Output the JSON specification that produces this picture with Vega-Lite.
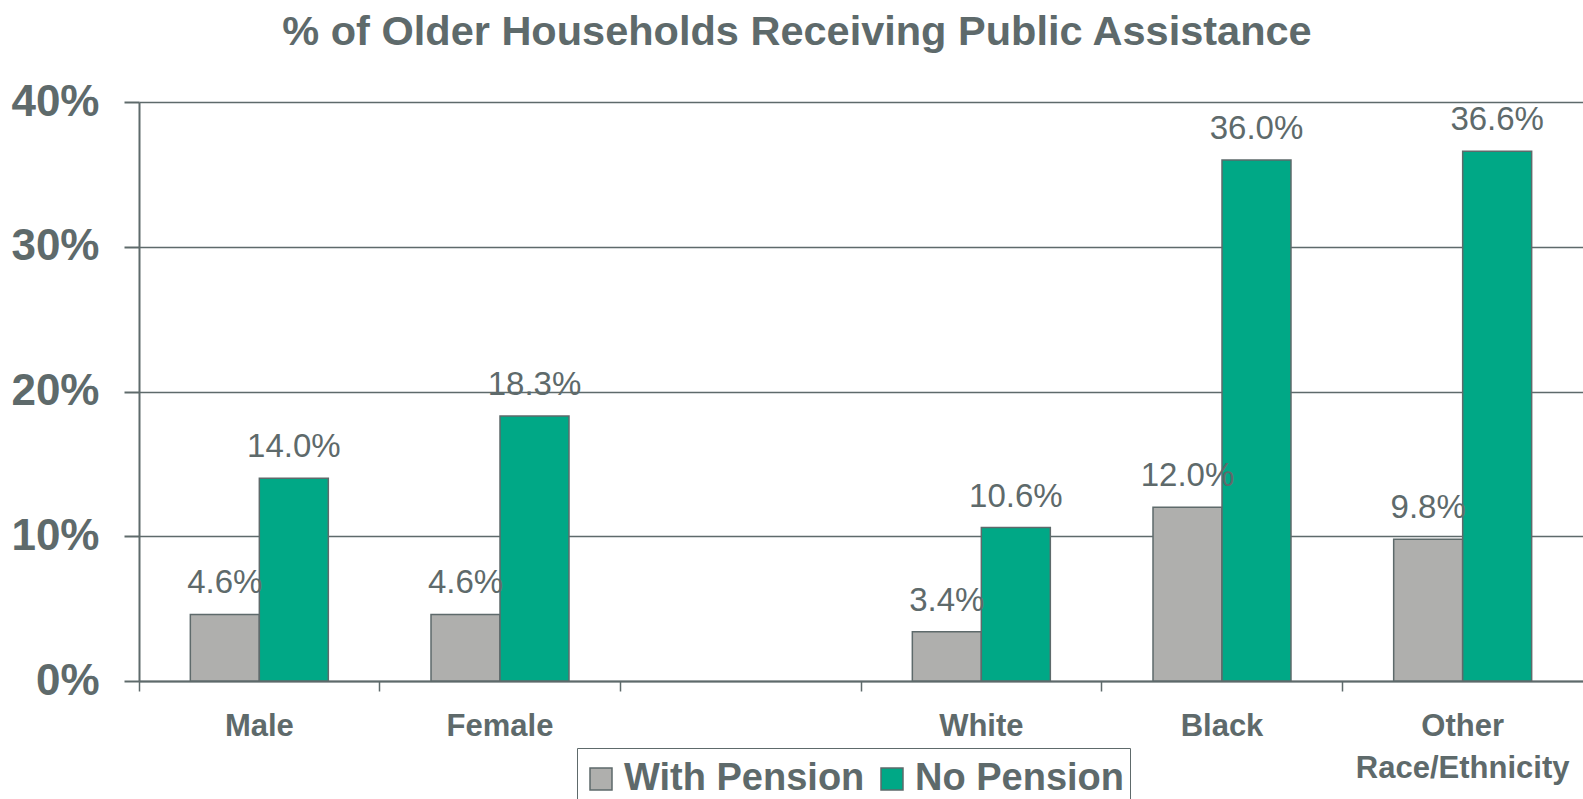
{
  "$schema": "https://vega.github.io/schema/vega-lite/v6.json",
  "width": 1444,
  "height": 579,
  "autosize": {"type": "none"},
  "padding": {"left": 139, "top": 102, "right": 0, "bottom": 118},
  "background": "white",
  "config": {
    "view": {"stroke": null},
    "font": "Liberation Sans"
  },
  "title": {
    "text": "% of Older Households Receiving Public Assistance",
    "fontSize": 41.5,
    "fontWeight": "bold",
    "font": "Liberation Sans",
    "color": "#5E6A6B",
    "anchor": "middle",
    "dx": -64,
    "baseline": "alphabetic",
    "offset": -6
  },
  "data": {
    "values": [
      {"group": "Male", "pension": "With Pension", "value": 0.046},
      {"group": "Male", "pension": "No Pension", "value": 0.140},
      {"group": "Female", "pension": "With Pension", "value": 0.046},
      {"group": "Female", "pension": "No Pension", "value": 0.183},
      {"group": "White", "pension": "With Pension", "value": 0.034},
      {"group": "White", "pension": "No Pension", "value": 0.106},
      {"group": "Black", "pension": "With Pension", "value": 0.120},
      {"group": "Black", "pension": "No Pension", "value": 0.360},
      {"group": "Other Race/Ethnicity", "pension": "With Pension", "value": 0.098},
      {"group": "Other Race/Ethnicity", "pension": "No Pension", "value": 0.366}
    ]
  },
  "encoding": {
    "x": {
      "field": "group",
      "type": "nominal",
      "scale": {
        "domain": ["Male", "Female", " ", "White", "Black", "Other Race/Ethnicity"],
        "paddingInner": 0,
        "paddingOuter": 0
      },
      "axis": {
        "title": null,
        "labelAngle": 0,
        "bandPosition": 0,
        "labelExpr": "datum.value == 'Other Race/Ethnicity' ? ['Other', 'Race/Ethnicity'] : datum.value",
        "labelFont": "Liberation Sans",
        "labelFontSize": 31,
        "labelFontWeight": "bold",
        "labelColor": "#5E6A6B",
        "labelPadding": 20,
        "labelLineHeight": 42,
        "labelLimit": 400,
        "labelOverlap": false,
        "tickSize": 10,
        "tickColor": "#5E6A6B",
        "tickWidth": 1.5,
        "domainColor": "#5E6A6B",
        "domainWidth": 2,
        "grid": false
      }
    },
    "xOffset": {
      "field": "pension",
      "type": "nominal",
      "scale": {"domain": ["With Pension", "No Pension"], "paddingInner": 0, "paddingOuter": 0.744}
    },
    "y": {
      "field": "value",
      "type": "quantitative",
      "scale": {"domain": [0, 0.4], "nice": false},
      "axis": {
        "title": null,
        "values": [0, 0.1, 0.2, 0.3, 0.4],
        "format": ".0%",
        "labelFont": "Liberation Sans",
        "labelFontSize": 44,
        "labelFontWeight": "bold",
        "labelColor": "#5E6A6B",
        "labelPadding": 25,
        "tickSize": 15,
        "tickColor": "#5E6A6B",
        "tickWidth": 2,
        "domainColor": "#5E6A6B",
        "domainWidth": 2,
        "grid": true,
        "gridColor": "#5E6A6B",
        "gridWidth": 1.5
      }
    }
  },
  "layer": [
    {
      "mark": {"type": "bar", "stroke": "#5E6A6B", "strokeWidth": 1.5},
      "encoding": {
        "color": {
          "field": "pension",
          "type": "nominal",
          "scale": {"domain": ["With Pension", "No Pension"], "range": ["#AFAFAD", "#00A886"]},
          "legend": {
            "title": " ",
            "titleFontSize": 1,
            "titlePadding": 6,
            "orient": "none",
            "legendX": 438,
            "legendY": 646,
            "direction": "horizontal",
            "columns": 2,
            "symbolType": "square",
            "symbolSize": 484,
            "symbolStrokeColor": "#5E6A6B",
            "symbolStrokeWidth": 1.5,
            "symbolOpacity": 1,
            "labelFont": "Liberation Sans",
            "labelFontSize": 38,
            "labelFontWeight": "bold",
            "labelColor": "#5E6A6B",
            "labelOffset": 4,
            "labelLimit": 400,
            "columnPadding": 8,
            "padding": 5,
            "strokeColor": "#5E6A6B"
          }
        }
      }
    },
    {
      "mark": {
        "type": "text",
        "baseline": "alphabetic",
        "dy": -21,
        "fontSize": 33,
        "font": "Liberation Sans",
        "color": "#5E6A6B"
      },
      "encoding": {
        "text": {"field": "value", "type": "quantitative", "format": ".1%"}
      }
    }
  ]
}
